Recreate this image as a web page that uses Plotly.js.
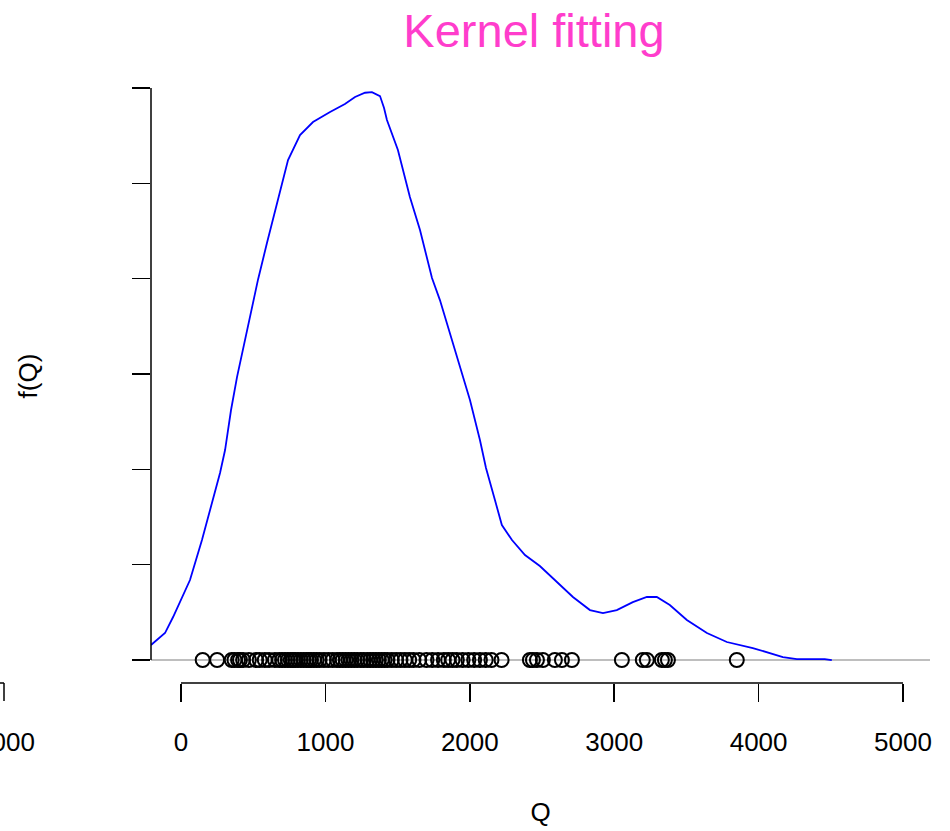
<!DOCTYPE html>
<html>
<head>
<meta charset="utf-8">
<script src="https://cdn.plot.ly/plotly-3.0.1.min.js"></script>
<style>html,body{margin:0;padding:0;background:#fff;}#chart{width:950px;height:831px;}</style>
</head>
<body>
<div id="chart"></div>
<script>
// Kernel density curve
var densityQ = [-208,-111,-55,62,145,215,270,305,346,388,436,492,533,595,665,741,824,914,1032,1135,1205,1274,1322,1378,1406,1426,1502,1585,1655,1738,1793,1876,1945,2001,2070,2112,2174,2222,2292,2382,2485,2624,2714,2832,2922,3018,3129,3226,3295,3385,3503,3642,3780,3960,4168,4265,4458,4507];
var densityF = [1.57e-5,2.83e-5,4.51e-5,8.39e-5,1.259e-4,1.647e-4,1.962e-4,2.203e-4,2.62e-4,2.97e-4,3.30e-4,3.72e-4,3.99e-4,4.374e-4,4.794e-4,5.245e-4,5.507e-4,5.644e-4,5.749e-4,5.832e-4,5.906e-4,5.951e-4,5.958e-4,5.916e-4,5.79e-4,5.665e-4,5.350e-4,4.857e-4,4.511e-4,4.007e-4,3.776e-4,3.357e-4,3.011e-4,2.727e-4,2.308e-4,2.014e-4,1.678e-4,1.416e-4,1.259e-4,1.101e-4,0.986e-4,0.787e-4,0.661e-4,0.524e-4,0.493e-4,0.524e-4,0.608e-4,0.661e-4,0.661e-4,0.577e-4,0.420e-4,0.283e-4,0.189e-4,0.126e-4,0.031e-4,0.010e-4,0.010e-4,0];
// Observed Q values (plotted on the zero line)
var observedQ = [150,250,351,370,395,408,430,470,520,545,580,610,650,680,700,720,740,760,775,790,810,830,850,870,885,900,920,940,960,990,1020,1050,1080,1100,1120,1140,1160,1180,1200,1220,1245,1265,1290,1310,1330,1350,1370,1390,1410,1430,1460,1490,1520,1550,1580,1610,1650,1700,1740,1780,1820,1850,1880,1910,1950,1990,2030,2070,2110,2150,2220,2416,2437,2465,2506,2589,2638,2707,3053,3198,3226,3330,3351,3372,3849];
var xTicks = [0,1000,2000,3000,4000,5000];
var yTicks = [0,1e-4,2e-4,3e-4,4e-4,5e-4,6e-4];

var zeros = observedQ.map(function(){return 0;});
var font = '"Liberation Sans", Arial, Helvetica, sans-serif';

var traces = [
  {x: densityQ, y: densityF, type: 'scatter', mode: 'lines',
   line: {color: '#0000ff', width: 1.8}, hoverinfo: 'x+y', showlegend: false},
  {x: observedQ, y: zeros, type: 'scatter', mode: 'markers',
   marker: {symbol: 'circle-open', size: 14, color: '#000', line: {width: 2, color: '#000'}},
   showlegend: false, cliponaxis: false}
];

var layout = {
  width: 950, height: 831,
  margin: {l: 151, r: 20, t: 69, b: 148},
  paper_bgcolor: '#fff', plot_bgcolor: '#fff',
  font: {family: font, size: 26, color: '#000'},
  title: {text: 'Kernel fitting', font: {family: font, size: 47, color: '#ff3dcc'},
          x: 534/950, xanchor: 'center', y: 1 - 31/831, yanchor: 'middle', xref: 'container', yref: 'container'},
  xaxis: {range: [-208, 5187], tickvals: xTicks, ticktext: xTicks.map(String),
          ticks: 'outside', ticklen: 18, tickwidth: 1.5, tickcolor: '#000', ticklabelstandoff: 18,
          showline: false, zeroline: false, showgrid: false,
          tickfont: {family: font, size: 26, color: '#000'},
          title: {text: 'Q', font: {family: font, size: 26, color: '#000'}, standoff: 46}},
  yaxis: {range: [-0.0000241, 0.00062], tickvals: yTicks, showticklabels: false,
          ticks: 'outside', ticklen: 18, tickwidth: 1.5, tickcolor: '#000',
          showline: false, zeroline: false, showgrid: false,
          title: {text: 'f(Q)', font: {family: font, size: 26, color: '#000'}, standoff: 86}},
  shapes: [
    {type: 'line', layer: 'below', xref: 'paper', yref: 'y', x0: 0, x1: 1, y0: 0, y1: 0,
     line: {color: '#bebebe', width: 2}},
    {type: 'line', xref: 'x', yref: 'paper', x0: xTicks[0], x1: xTicks[xTicks.length-1], y0: 0, y1: 0,
     line: {color: '#000', width: 1.5}},
    {type: 'line', xref: 'paper', yref: 'y', x0: 0, x1: 0, y0: yTicks[0], y1: yTicks[yTicks.length-1],
     line: {color: '#000', width: 1.5}},
    // fragment of neighbouring panel's axis at far left
    {type: 'line', xref: 'paper', yref: 'paper', x0: -151/779, x1: -147/779, y0: 0, y1: 0,
     line: {color: '#000', width: 1.5}},
    {type: 'line', xref: 'paper', yref: 'paper', x0: -147/779, x1: -147/779, y0: 0, y1: -18/614,
     line: {color: '#000', width: 1.5}}
  ],
  annotations: [
    {text: '5000', xref: 'paper', yref: 'paper', x: -114/779, y: -59/614, xanchor: 'right', yanchor: 'middle',
     showarrow: false, font: {family: font, size: 26, color: '#000'}}
  ]
};

Plotly.newPlot('chart', traces, layout, {displayModeBar: false, staticPlot: true});
</script>
</body>
</html>
